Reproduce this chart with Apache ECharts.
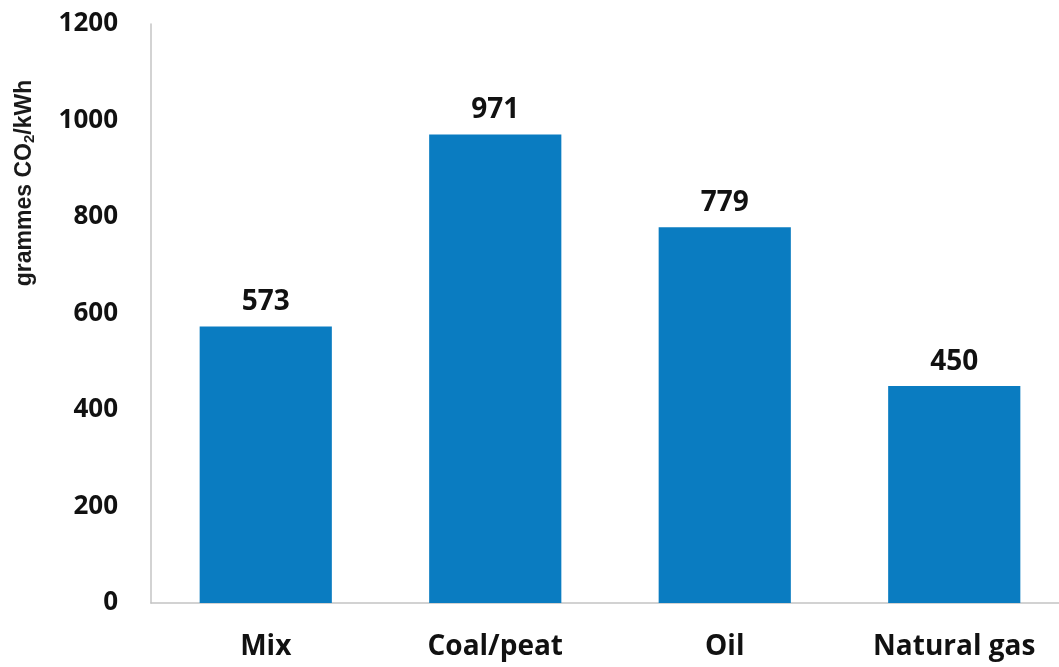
<!DOCTYPE html>
<html>
<head>
<meta charset="utf-8">
<script src="https://cdn.jsdelivr.net/npm/echarts@6/dist/echarts.min.js"></script>
<style>
html,body{margin:0;padding:0;background:#fff;overflow:hidden;width:1059px;height:667px;}
#c{width:1069px;height:667px;}
</style>
</head>
<body>
<div id="c"></div>
<script>
const categories = ['Mix', 'Coal/peat', 'Oil', 'Natural gas'];
const values = [573, 971, 779, 450];
const yTicks = { min: 0, max: 1200, interval: 200 };
const yAxisTitle = 'grammes CO{sub|2}/kWh';

const chart = echarts.init(document.getElementById('c'));
const option = {
  animation: false,
  backgroundColor: '#ffffff',
  grid: { left: 151, right: 0, top: 24, bottom: 64 },
  graphic: [{
    type: 'text',
    x: 25, y: 183,
    rotation: Math.PI / 2,
    style: {
      text: yAxisTitle,
      font: 'bold 23px "Liberation Sans", Arial, sans-serif',
      fill: '#1a1a1a',
      align: 'center',
      verticalAlign: 'middle',
      rich: {
        sub: { font: 'bold 15px "Liberation Sans", Arial, sans-serif', verticalAlign: 'bottom', padding: [9, 0, 0, 0] }
      }
    }
  }],
  xAxis: {
    type: 'category',
    data: categories,
    axisLine: { show: true, lineStyle: { color: '#c4c4c4', width: 1.5 } },
    axisTick: { show: false },
    axisLabel: {
      margin: 30,
      fontFamily: '"Open Sans", sans-serif',
      fontWeight: 'bold',
      fontSize: 28,
      color: '#111'
    }
  },
  yAxis: {
    type: 'value',
    min: yTicks.min, max: yTicks.max, interval: yTicks.interval,
    splitLine: { show: false },
    axisLine: { show: true, lineStyle: { color: '#c4c4c4', width: 1.5 } },
    axisTick: { show: false },
    axisLabel: {
      margin: 33,
      formatter: function (v) { return String(v); },
      fontFamily: '"Open Sans", sans-serif',
      fontWeight: 'bold',
      fontSize: 26,
      color: '#111'
    }
  },
  series: [{
    type: 'bar',
    data: values,
    barWidth: '57.6%',
    itemStyle: { color: '#0A7CC1' },
    label: {
      show: true,
      position: 'top',
      distance: 10,
      fontFamily: '"Open Sans", sans-serif',
      fontWeight: 'bold',
      fontSize: 28,
      color: '#111'
    }
  }]
};
chart.setOption(option);
</script>
</body>
</html>
